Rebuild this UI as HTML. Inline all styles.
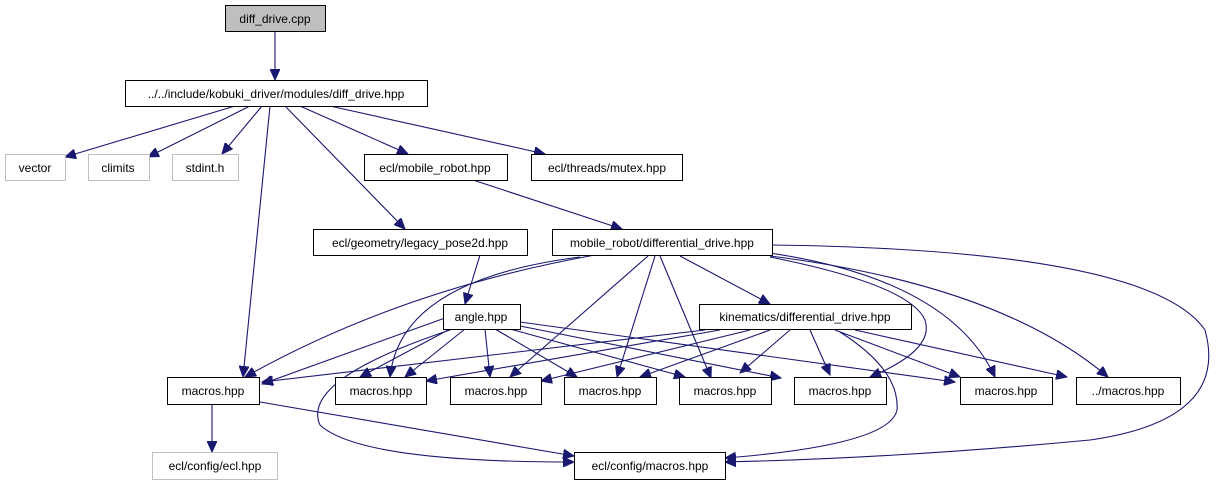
<!DOCTYPE html>
<html><head><meta charset="utf-8"><style>
html,body{margin:0;padding:0;background:#fff}
svg{display:block}
text{font-family:"Liberation Sans",sans-serif;font-size:12px;text-anchor:middle}
</style></head><body>
<svg width="1219" height="485" viewBox="0 0 1219 485" xmlns="http://www.w3.org/2000/svg">
<defs>
<marker id="a" markerUnits="userSpaceOnUse" markerWidth="12" markerHeight="10" refX="11" refY="5" orient="auto">
<polygon points="0,0 11,5 0,10" fill="#191970" stroke="#191970"/>
</marker>
</defs>
<g fill="none" stroke="#191970" stroke-width="1.1" marker-end="url(#a)">
<path d="M275,31 L275,80"/>
<path d="M235,106 L65,157"/>
<path d="M250,106 L148,157"/>
<path d="M262,106 L222,154"/>
<path d="M270,106 L243,377"/>
<path d="M285,106 L405,229"/>
<path d="M300,106 L408,154"/>
<path d="M330,106 L545,154"/>
<path d="M473,180 L622,229"/>
<path d="M480,255 L465,304"/>
<!-- mr/dd -->
<path d="M595,255 Q400,290 245,377"/>
<path d="M580,257 Q400,280 390,377"/>
<path d="M648,256 L510,377"/>
<path d="M655,256 L617,377"/>
<path d="M660,256 L711,378"/>
<path d="M680,256 L770,304"/>
<path d="M770,257 Q910,285 925,320 Q935,350 870,377"/>
<path d="M770,253 Q950,280 995,377"/>
<path d="M770,256 Q1000,285 1108,377"/>
<path d="M772,245 Q1150,250 1205,330 Q1230,420 1090,440 Q900,458 725,462"/>
<!-- angle -->
<path d="M445,318 L262,384"/>
<path d="M450,329 L360,377"/>
<path d="M465,329 L405,377"/>
<path d="M485,329 L490,377"/>
<path d="M495,329 L577,377"/>
<path d="M510,329 L685,377"/>
<path d="M520,326 L781,378"/>
<path d="M520,322 L955,382"/>
<path d="M450,330 Q300,380 320,425 Q360,462 574,462"/>
<!-- kinematics -->
<path d="M705,330 L262,382"/>
<path d="M720,330 L426,381"/>
<path d="M750,330 L541,381"/>
<path d="M770,330 L640,377"/>
<path d="M790,330 L740,373"/>
<path d="M810,330 L830,375"/>
<path d="M835,330 L960,377"/>
<path d="M855,330 L1067,377"/>
<path d="M840,332 Q900,370 897,410 Q890,445 725,458"/>
<!-- macros1 -->
<path d="M212,404 L212,452"/>
<path d="M260,402 L574,456"/>
</g>
<g stroke-width="1" fill="#fff">
<rect x="225.5" y="5.5" width="100" height="26" fill="#bfbfbf" stroke="#000"/>
<rect x="125.5" y="80.5" width="302" height="26" stroke="#000"/>
<rect x="5.5" y="154.5" width="60" height="26" stroke="#bfbfbf"/>
<rect x="88.5" y="154.5" width="61" height="26" stroke="#bfbfbf"/>
<rect x="172.5" y="154.5" width="66" height="26" stroke="#bfbfbf"/>
<rect x="364.5" y="154.5" width="143" height="26" stroke="#000"/>
<rect x="531.5" y="154.5" width="151" height="26" stroke="#000"/>
<rect x="313.5" y="229.5" width="214" height="26" stroke="#000"/>
<rect x="552.5" y="229.5" width="220" height="26" stroke="#000"/>
<rect x="443.5" y="304.5" width="77" height="25" stroke="#000"/>
<rect x="699.5" y="304.5" width="212" height="25" stroke="#000"/>
<rect x="167.5" y="377.5" width="92" height="27" stroke="#000"/>
<rect x="335.5" y="377.5" width="91" height="27" stroke="#000"/>
<rect x="450.5" y="377.5" width="91" height="27" stroke="#000"/>
<rect x="564.5" y="377.5" width="92" height="27" stroke="#000"/>
<rect x="679.5" y="377.5" width="92" height="27" stroke="#000"/>
<rect x="794.5" y="377.5" width="92" height="27" stroke="#000"/>
<rect x="960.5" y="377.5" width="92" height="27" stroke="#000"/>
<rect x="1076.5" y="377.5" width="104" height="27" stroke="#000"/>
<rect x="152.5" y="452.5" width="125" height="27" stroke="#bfbfbf"/>
<rect x="574.5" y="452.5" width="151" height="27" stroke="#000"/>
</g>
<g fill="#000">
<text x="275" y="23">diff_drive.cpp</text>
<text x="276" y="98">../../include/kobuki_driver/modules/diff_drive.hpp</text>
<text x="35" y="172">vector</text>
<text x="118" y="172">climits</text>
<text x="205" y="172">stdint.h</text>
<text x="435" y="172">ecl/mobile_robot.hpp</text>
<text x="607" y="172">ecl/threads/mutex.hpp</text>
<text x="420" y="247">ecl/geometry/legacy_pose2d.hpp</text>
<text x="662" y="247">mobile_robot/differential_drive.hpp</text>
<text x="481" y="321">angle.hpp</text>
<text x="805" y="321">kinematics/differential_drive.hpp</text>
<text x="213" y="395">macros.hpp</text>
<text x="381" y="395">macros.hpp</text>
<text x="496" y="395">macros.hpp</text>
<text x="610" y="395">macros.hpp</text>
<text x="725" y="395">macros.hpp</text>
<text x="840" y="395">macros.hpp</text>
<text x="1006" y="395">macros.hpp</text>
<text x="1128" y="395">../macros.hpp</text>
<text x="215" y="470">ecl/config/ecl.hpp</text>
<text x="650" y="470">ecl/config/macros.hpp</text>
</g>
</svg>
</body></html>
